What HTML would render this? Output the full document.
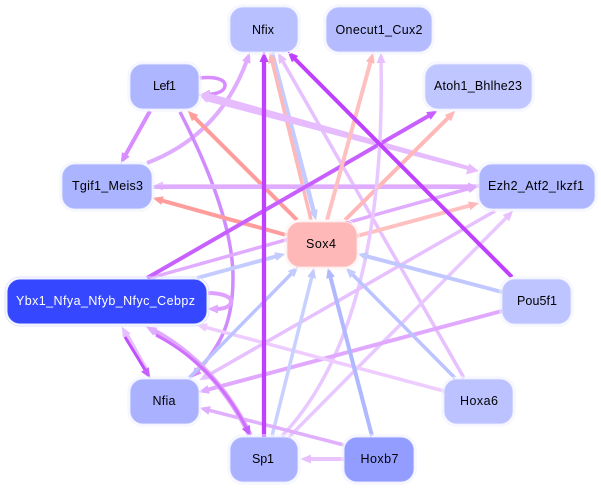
<!DOCTYPE html>
<html><head><meta charset="utf-8"><style>
html,body{margin:0;padding:0;background:#fff}
svg{display:block}
text{font-family:"Liberation Sans",sans-serif;font-size:12.5px;text-anchor:middle;fill:#000}
.e{fill:none;stroke-width:3.5}
.o{fill:none;stroke:#f0f1ff;stroke-width:1}
.n{stroke:#e4e7ff;stroke-width:1}
</style></head><body>
<svg width="601" height="489" viewBox="0 0 601 489" xmlns="http://www.w3.org/2000/svg">
<defs>
<marker id="a1" markerUnits="userSpaceOnUse" markerWidth="11" markerHeight="10" refX="3" refY="4.5" orient="auto"><path d="M0,0L10.5,4.5L0,9z" fill="#c040ff"/></marker>
<marker id="a2" markerUnits="userSpaceOnUse" markerWidth="11" markerHeight="10" refX="3" refY="4.5" orient="auto"><path d="M0,0L10.5,4.5L0,9z" fill="#c4ccff"/></marker>
<marker id="a3" markerUnits="userSpaceOnUse" markerWidth="11" markerHeight="10" refX="3" refY="4.5" orient="auto"><path d="M0,0L10.5,4.5L0,9z" fill="#ffb8b8"/></marker>
<marker id="a4" markerUnits="userSpaceOnUse" markerWidth="11" markerHeight="10" refX="3" refY="4.5" orient="auto"><path d="M0,0L10.5,4.5L0,9z" fill="#e6c0ff"/></marker>
<marker id="a5" markerUnits="userSpaceOnUse" markerWidth="11" markerHeight="10" refX="3" refY="4.5" orient="auto"><path d="M0,0L10.5,4.5L0,9z" fill="#e0acff"/></marker>
<marker id="a6" markerUnits="userSpaceOnUse" markerWidth="11" markerHeight="10" refX="3" refY="4.5" orient="auto"><path d="M0,0L10.5,4.5L0,9z" fill="#d88cff"/></marker>
<marker id="a7" markerUnits="userSpaceOnUse" markerWidth="11" markerHeight="10" refX="3" refY="4.5" orient="auto"><path d="M0,0L10.5,4.5L0,9z" fill="#ff9c9c"/></marker>
<marker id="a8" markerUnits="userSpaceOnUse" markerWidth="11" markerHeight="10" refX="3" refY="4.5" orient="auto"><path d="M0,0L10.5,4.5L0,9z" fill="#c860ff"/></marker>
<marker id="a9" markerUnits="userSpaceOnUse" markerWidth="11" markerHeight="10" refX="3" refY="4.5" orient="auto"><path d="M0,0L10.5,4.5L0,9z" fill="#eeccff"/></marker>
<marker id="a10" markerUnits="userSpaceOnUse" markerWidth="11" markerHeight="10" refX="3" refY="4.5" orient="auto"><path d="M0,0L10.5,4.5L0,9z" fill="#b0b8ff"/></marker>
</defs>

<!-- edges -->
<path class="e" stroke="#c4ccff" style="stroke-width:4.5" d="M272,53L314.2,213.2" marker-end="url(#a2)"/>
<path class="e" stroke="#ffb8b8" d="M311,220L271.7,59.8" marker-end="url(#a3)"/>
<path class="e" stroke="#e6c0ff" d="M464,378L281.5,59.1" marker-end="url(#a4)"/>
<path class="e" stroke="#e0acff" style="stroke-width:4" d="M147,163Q220,135 247.3,59.4" marker-end="url(#a5)"/>
<path class="e" stroke="#d88cff" style="stroke-width:4" d="M150,111L124.4,156.9" marker-end="url(#a6)"/>
<path class="e" stroke="#d88cff" d="M200,78C216,76 226,80 225,86C224,92 216,94 207,94.5" marker-end="url(#a6)"/>
<path class="e" stroke="#d08cff" d="M180,112C215,180 233,235 233,278C233,320 222,345 196.2,372.4" marker-end="url(#a6)"/>
<path d="M206,92.4L204,100.6L472.5,171.2L473.5,167.4z" fill="#e6bcff"/>
<path d="M479,171L469,163.5L466,174.5z" fill="#e6bcff"/>
<path d="M199,95L210,90.5L207,103z" fill="#e6bcff"/>
<path class="e" stroke="#ff9c9c" style="stroke-width:4" d="M297,220L193,116" marker-end="url(#a7)"/>
<path class="e" stroke="#ff9c9c" style="stroke-width:4" d="M286,235L159.7,199.9" marker-end="url(#a7)"/>
<path class="e" stroke="#e6bcff" d="M479,186L160,186" marker-end="url(#a4)"/>
<path class="e" stroke="#e0acff" style="stroke-width:4" d="M153,187L471,187" marker-end="url(#a5)"/>
<path class="e" stroke="#e0acff" d="M150,278L471.3,187.9" marker-end="url(#a5)"/>
<path class="e" stroke="#c860ff" style="stroke-width:4" d="M147,278L431,114.5" marker-end="url(#a8)"/>
<path class="e" stroke="#ffb8b8" style="stroke-width:4" d="M345,220L450,116" marker-end="url(#a3)"/>
<path class="e" stroke="#ffc0c0" style="stroke-width:4" d="M327,220L371.1,59.7" marker-end="url(#a3)"/>
<path class="e" stroke="#ffc0c0" style="stroke-width:4" d="M357,236L472,205" marker-end="url(#a3)"/>
<path class="e" stroke="#e8c8ff" d="M282,436C345,370 385,250 381,60" marker-end="url(#a4)"/>
<path class="e" stroke="#e8c8ff" d="M289,437L508,216" marker-end="url(#a4)"/>
<path class="e" stroke="#e6c0ff" d="M495,211L206,376.5" marker-end="url(#a4)"/>
<path class="e" stroke="#e0a8ff" style="stroke-width:4" d="M502,311L205.8,390.2" marker-end="url(#a5)"/>
<path class="e" stroke="#eeccff" d="M444,391L203.8,326.8" marker-end="url(#a9)"/>
<path class="e" stroke="#bcc4ff" d="M455,378L351,273" marker-end="url(#a2)"/>
<path class="e" stroke="#c0c8ff" style="stroke-width:4" d="M502,292L364.8,255.8" marker-end="url(#a2)"/>
<path class="e" stroke="#b0b8ff" style="stroke-width:4" d="M372,436L329.8,274.8" marker-end="url(#a10)"/>
<path class="e" stroke="#c8d0ff" d="M272,436L312.3,274.8" marker-end="url(#a2)"/>
<path class="e" stroke="#bcc4ff" d="M189,378L293.1,272" marker-end="url(#a2)"/>
<path class="e" stroke="#c4ccff" style="stroke-width:4" d="M197,278L278.2,255.8" marker-end="url(#a2)"/>
<path class="e" stroke="#eac4ff" style="stroke-width:4" d="M344,459L308,459" marker-end="url(#a4)"/>
<path class="e" stroke="#e0b0ff" d="M344,445L206.8,409.7" marker-end="url(#a5)"/>
<path class="e" stroke="#e0a0ff" style="stroke-width:4" d="M208,293C222,293 232,297 231,302C230,307 224,309 215,309" marker-end="url(#a5)"/>
<path class="e" stroke="#e6c0ff" style="stroke-width:5" d="M147,372L125.4,333.1" marker-end="url(#a4)"/>
<path class="e" stroke="#c050ff" style="stroke-width:3" d="M125,337L146.4,372" marker-end="url(#a8)"/>
<path class="e" stroke="#e0a8ff" style="stroke-width:5.5" d="M250,435Q215,364 152.6,330.2" marker-end="url(#a5)"/>
<path class="e" stroke="#d070ff" style="stroke-width:3" d="M156,335Q215,366 247.2,429.6" marker-end="url(#a8)"/>
<path class="e" stroke="#c040ff" style="stroke-width:4.3" d="M264,437L264,59" marker-end="url(#a1)"/>
<path class="e" stroke="#c040ff" style="stroke-width:4" d="M512,277L293,57" marker-end="url(#a1)"/>

<!-- nodes -->
<rect class="o" x="228" y="5" width="72" height="49" rx="15"/><rect class="n" x="230" y="7" width="68" height="45" rx="13" fill="#b8c0ff"/><text x="263" y="34" textLength="22">Nfix</text>
<rect class="o" x="324" y="5" width="110" height="49" rx="15"/><rect class="n" x="326" y="7" width="106" height="45" rx="13" fill="#b4bcff"/><text x="379" y="34" textLength="87">Onecut1_Cux2</text>
<rect class="o" x="128" y="62" width="73" height="49" rx="15"/><rect class="n" x="130" y="64" width="69" height="45" rx="13" fill="#adb6ff"/><text x="164.5" y="90" textLength="23">Lef1</text>
<rect class="o" x="423" y="62" width="111" height="49" rx="15"/><rect class="n" x="425" y="64" width="107" height="45" rx="13" fill="#c0c6ff"/><text x="478" y="90" textLength="88">Atoh1_Bhlhe23</text>
<rect class="o" x="60" y="162" width="94" height="49" rx="15"/><rect class="n" x="62" y="164" width="90" height="45" rx="13" fill="#aab4ff"/><text x="107.5" y="190" textLength="71">Tgif1_Meis3</text>
<rect class="o" x="477" y="162" width="120" height="49" rx="15"/><rect class="n" x="479" y="164" width="116" height="45" rx="13" fill="#adb6ff"/><text x="536" y="190" textLength="96">Ezh2_Atf2_Ikzf1</text>
<rect x="285" y="220" width="74" height="49" rx="15" fill="none" stroke="#fff0f0"/><rect x="287" y="222" width="70" height="45" rx="13" fill="#ffb8b8" stroke="#ffe0e0"/><text x="321" y="248" textLength="30">Sox4</text>
<rect x="5" y="277" width="204" height="49" rx="15" fill="none" stroke="#dfe2ff"/><rect x="7" y="279" width="200" height="45" rx="13" fill="#3548ff" stroke="#e4e7ff"/><text x="105.5" y="305" textLength="179" style="fill:#fff">Ybx1_Nfya_Nfyb_Nfyc_Cebpz</text>
<rect class="o" x="500" y="277" width="73" height="49" rx="15"/><rect class="n" x="502" y="279" width="69" height="45" rx="13" fill="#bdc4ff"/><text x="537" y="305" textLength="40">Pou5f1</text>
<rect class="o" x="128" y="377" width="73" height="49" rx="15"/><rect class="n" x="130" y="379" width="69" height="45" rx="13" fill="#aab2ff"/><text x="164" y="405" textLength="23">Nfia</text>
<rect class="o" x="442" y="377" width="73" height="49" rx="15"/><rect class="n" x="444" y="379" width="69" height="45" rx="13" fill="#bbc2ff"/><text x="479" y="405" textLength="38">Hoxa6</text>
<rect class="o" x="228" y="435" width="72" height="49" rx="15"/><rect class="n" x="230" y="437" width="68" height="45" rx="13" fill="#aab2ff"/><text x="263" y="463" textLength="22">Sp1</text>
<rect class="o" x="342" y="435" width="74" height="49" rx="15"/><rect class="n" x="344" y="437" width="70" height="45" rx="13" fill="#929dff"/><text x="379.5" y="463" textLength="38">Hoxb7</text>
</svg>
</body></html>
